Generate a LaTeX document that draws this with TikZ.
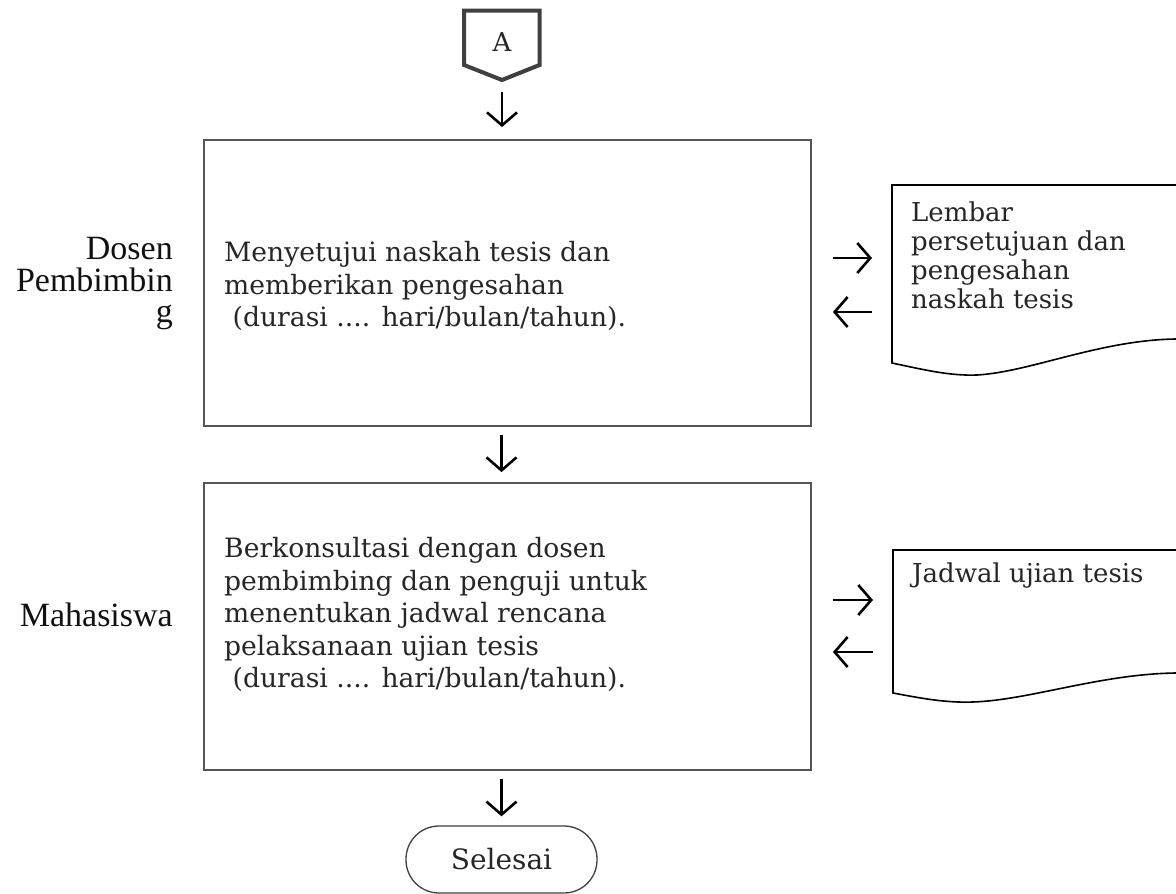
\documentclass[tikz,border=0pt]{standalone}
\usepackage{fontspec}
\setmainfont{DejaVu Serif}
\newfontfamily\labelfont{Liberation Serif}
\usetikzlibrary{arrows.meta}
\definecolor{txt}{HTML}{262626}
\definecolor{boxline}{HTML}{555555}
\definecolor{pentline}{HTML}{404040}
\definecolor{lbl}{HTML}{111111}
\begin{document}
\begin{tikzpicture}[x=1pt,y=-1pt,
  procbox/.style={draw=boxline,line width=1.8pt,minimum width=607pt,inner sep=0pt},
  proctext/.style={inner sep=0pt,anchor=north west,align=left,text=txt,
    font=\fontsize{26.6}{32.6}\selectfont},
  doctext/.style={inner sep=0pt,anchor=north west,align=left,text=txt,
    font=\fontsize{26}{29}\selectfont},
  lanetext/.style={inner sep=0pt,align=right,text=lbl,
    font=\labelfont\fontsize{34}{31.5}\selectfont},
  docshape/.style={draw=black,line width=1.6pt,fill=white},
  flowarrow/.style={draw=black,line width=2.6pt,
    -{Straight Barb[length=13pt,width=30pt,line width=2.6pt]}},
  termbox/.style={draw=pentline,line width=1.3pt,rounded corners=33pt,
    minimum width=191pt,minimum height=67pt,inner sep=0pt,text=txt,
    font=\fontsize{28}{32}\selectfont}]
\useasboundingbox (0,0) rectangle (1176,894);
\clip (0,0) rectangle (1176,894);
\fill[white] (0,0) rectangle (1176,894);

% off-page connector A
\draw[draw=pentline,line width=4pt,line join=miter]
  (464,10.5) -- (539.5,10.5) -- (539.5,65) -- (502,80) -- (464,65) -- cycle;
\node[text=txt,font=\fontsize{26}{30}\selectfont,inner sep=0pt] (A) at (502,42) {A};
\coordinate (Abot) at (502,80);

% process boxes
\node[procbox,minimum height=286pt] (b1) at (507.5,283) {};
\node[procbox,minimum height=287pt] (b2) at (507.5,626.5) {};

\node[proctext] (t1) at (224,241) {Menyetujui naskah tesis dan\\
memberikan pengesahan\\
\hspace*{0.32em}(durasi .... hari/bulan/tahun).};
\node[proctext] (t2) at (224,537) {Berkonsultasi dengan dosen\\
pembimbing dan penguji untuk\\
menentukan jadwal rencana\\
pelaksanaan ujian tesis\\
\hspace*{0.32em}(durasi .... hari/bulan/tahun).};

% lane labels
\node[lanetext,anchor=north east] (l1) at (173,237.5) {Dosen\\Pembimbin\\g};
\node[lanetext,anchor=base east] (l2) at (173,626) {Mahasiswa};

% documents
\draw[docshape] (892,185) -- (1200,185) -- (1200,339) -- (1176,339)
  .. controls (1100,340) and (1030,372) .. (977,375)
  .. controls (950,376) and (925,370) .. (892,363) -- cycle;
\node[doctext] (d1) at (911,202) {Lembar\\persetujuan dan\\pengesahan\\naskah tesis};
\draw[docshape] (893,550) -- (1200,550) -- (1200,673) -- (1176,673)
  .. controls (1100,674) and (1030,700) .. (973,702)
  .. controls (945,703) and (920,698) .. (893,693) -- cycle;
\node[doctext] (d2) at (912,563) {Jadwal ujian tesis};

\coordinate (d1a) at (892,258);
\coordinate (d1b) at (892,312);
\coordinate (d2a) at (893,600);
\coordinate (d2b) at (893,652);

% terminal
\node[termbox] (end) at (501.5,859.5) {Selesai};

% vertical flow arrows
\draw[flowarrow,shorten <=12pt,shorten >=12pt] (Abot) -- (b1.north -| Abot);
\draw[flowarrow,shorten <=8pt,shorten >=10pt] (b1.south -| end) -- (b2.north -| end);
\draw[flowarrow,shorten <=8pt,shorten >=9pt] (b2.south -| end) -- (end.north);

% horizontal arrows
\draw[flowarrow,shorten <=21pt,shorten >=20pt] (b1.east |- d1a) -- (d1a);
\draw[flowarrow,shorten <=20pt,shorten >=21pt] (d1b) -- (b1.east |- d1b);
\draw[flowarrow,shorten <=21pt,shorten >=20pt] (b2.east |- d2a) -- (d2a);
\draw[flowarrow,shorten <=20pt,shorten >=21pt] (d2b) -- (b2.east |- d2b);
\end{tikzpicture}
\end{document}
